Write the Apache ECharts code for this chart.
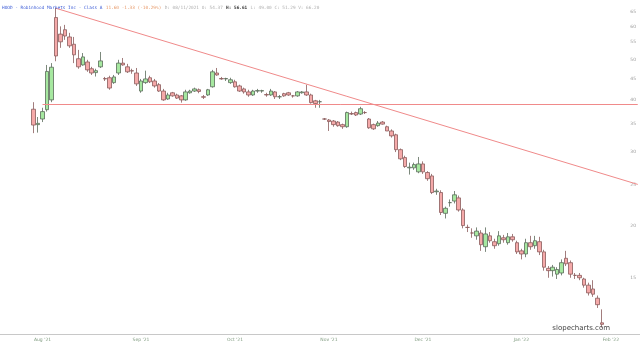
<!DOCTYPE html>
<html><head><meta charset="utf-8">
<script src="https://cdn.jsdelivr.net/npm/echarts@6/dist/echarts.min.js"></script>
<style>html,body{margin:0;padding:0;background:#fff}#c{width:640px;height:345px}</style>
</head><body><div id="c"></div>
<script>
// ---- data (HOOD daily) ----
const open  = [38.00,34.90,36.00,37.90,40.00,63.00,57.50,58.90,56.60,54.37,
50.20,48.50,49.30,47.50,46.50,48.00,45.00,45.20,44.00,46.40,
49.00,48.00,47.00,46.40,42.00,44.00,45.20,44.40,43.50,42.00,
40.20,41.60,41.10,40.90,40.00,41.60,42.00,42.30,40.70,41.10,
43.00,46.40,45.00,44.90,44.00,44.20,43.20,42.50,41.80,41.10,
42.00,42.00,41.20,41.10,41.80,40.70,41.40,41.60,40.90,40.90,
41.60,41.80,41.10,39.80,39.60,36.00,35.80,35.60,35.40,34.90,
34.50,37.10,37.30,37.00,37.30,36.00,34.90,34.70,35.40,34.50,
33.70,33.00,30.40,29.10,27.50,27.50,26.90,28.10,26.80,26.30,
24.10,24.00,21.40,22.70,22.90,23.30,21.80,19.80,19.20,18.90,
19.20,17.80,18.90,18.30,18.10,18.70,18.20,18.80,18.20,17.40,
17.10,18.20,17.90,18.30,17.30,15.80,15.60,15.30,15.40,16.70,
16.30,15.20,15.20,14.90,14.40,14.10,13.40,11.70];
const high  = [39.50,36.40,38.30,48.50,49.00,85.00,60.00,60.50,57.90,56.61,
52.70,51.80,49.90,48.00,47.50,52.10,45.40,45.70,45.90,49.90,
50.40,48.80,47.50,47.70,44.90,47.00,45.70,44.90,43.90,42.50,
41.60,41.80,41.40,41.10,42.30,42.30,42.80,42.60,41.10,42.50,
47.20,47.70,45.40,45.20,45.20,44.70,43.50,42.80,42.30,42.30,
42.50,42.30,41.60,42.50,42.00,41.10,41.60,41.80,41.10,42.00,
42.00,43.50,41.40,40.00,40.00,36.20,36.00,35.80,35.60,35.10,
37.50,37.50,37.50,38.50,37.60,36.20,35.10,35.60,35.60,34.70,
34.00,33.20,30.60,29.40,28.30,28.30,29.20,28.50,27.00,26.60,
24.50,24.30,22.20,23.10,24.20,23.60,22.00,20.10,19.70,19.80,
19.50,19.80,19.30,18.60,19.40,19.00,19.20,19.10,18.40,17.60,
18.60,18.90,18.90,18.80,17.50,16.00,16.10,15.90,16.60,17.40,
16.50,15.40,15.40,15.00,14.60,14.80,13.60,12.60];
const low   = [33.30,33.40,35.40,37.50,39.50,49.50,53.30,55.70,53.30,49.00,
47.50,48.30,46.70,45.90,45.50,47.70,44.40,42.30,43.70,45.90,
48.30,46.40,46.20,43.20,41.60,43.70,43.90,42.80,41.80,39.80,
40.00,40.70,40.20,39.40,39.80,41.40,41.80,41.50,40.20,40.90,
42.80,45.70,44.70,44.40,43.70,42.80,41.80,41.40,40.70,40.90,
41.60,41.60,40.70,40.90,40.20,40.20,40.70,40.90,40.50,40.70,
41.40,40.90,39.20,38.30,38.30,35.80,33.70,34.50,34.50,34.10,
34.30,36.80,36.60,36.80,37.00,34.10,33.90,34.50,34.90,33.70,
32.50,30.00,28.70,27.50,26.50,27.20,26.70,26.60,25.60,23.80,
23.70,21.20,20.80,22.20,22.60,21.60,19.70,19.30,18.70,18.50,
17.40,17.30,18.20,17.60,17.90,18.20,18.00,18.30,17.10,16.60,
16.80,17.50,17.60,17.00,15.60,15.00,15.10,14.90,15.20,16.00,
15.00,14.90,14.80,14.20,13.60,13.50,12.70,11.40];
const close = [34.82,35.15,37.50,46.80,47.90,50.97,55.10,56.90,53.90,51.29,
48.00,50.70,47.20,46.40,47.00,49.60,44.90,42.70,45.40,49.00,
48.50,46.70,46.90,43.70,44.40,44.90,44.20,43.20,42.00,40.00,
41.10,40.90,40.40,40.00,41.80,42.00,42.50,41.90,40.60,42.30,
46.70,45.90,44.90,45.00,44.70,43.00,42.00,41.80,41.10,42.00,
42.10,42.10,41.10,42.00,40.70,40.70,40.90,41.10,40.90,41.80,
41.80,41.10,39.40,39.20,39.60,36.00,35.50,34.90,34.70,34.50,
37.30,37.00,36.80,38.10,37.30,34.30,34.10,35.20,35.00,33.70,
32.80,30.40,28.90,27.70,27.60,28.00,28.10,26.90,25.90,24.00,
24.20,21.50,22.00,22.70,23.70,21.80,20.00,19.80,19.20,19.40,
18.00,19.10,18.40,17.90,18.90,18.50,18.80,18.50,17.30,17.10,
18.20,17.80,18.40,17.30,15.90,15.60,15.90,15.70,16.30,16.20,
15.30,15.20,15.00,14.40,13.80,13.70,12.93,11.60];
const volumeNote = '66.20';          // V: field of the header as read
const hoverIndex = 9;                 // header shows the 08/11/2021 bar
const yTicks = [15,20,25,30,35,40,45,50,55,60,65];
const yMin = 11.0, yMax = 66.4;       // visible price range (log scale)
const supportLevel = 39.1;            // horizontal red line
const trendFrom = {bar: 5, price: 66.3};   // red trend line, first point
const trendTo   = {bar: 135, price: 25.1}; // red trend line, right edge
const holidays = ['2021-09-06','2021-11-25','2021-12-24','2022-01-17'];
const padBefore = 7, padAfter = 8;

// ---- build ----
function tradingDays(startISO, n) {
  const out = []; const d = new Date(startISO + 'T00:00:00Z');
  while (out.length < n) {
    const dow = d.getUTCDay(); const iso = d.toISOString().slice(0, 10);
    if (dow !== 0 && dow !== 6 && !holidays.includes(iso)) out.push(iso);
    d.setUTCDate(d.getUTCDate() + 1);
  }
  return out;
}
const dates = tradingDays('2021-07-20', padBefore + open.length + padAfter);
const L = Math.log;
const candles = dates.map((d, i) => {
  const k = i - padBefore;
  if (k < 0 || k >= open.length) return '-';
  return [L(open[k]), L(close[k]), L(low[k]), L(high[k])];
});
const MONTHS = ['Jan','Feb','Mar','Apr','May','Jun','Jul','Aug','Sep','Oct','Nov','Dec'];
function isMonthStart(i) { return i > 0 && dates[i].slice(0, 7) !== dates[i - 1].slice(0, 7); }

const n = close.length;
const last = close[n - 1], prev = close[n - 2];
const chg = last - prev, pct = chg / prev * 100;
const hd = dates[hoverIndex + padBefore];
const hdTxt = hd.slice(5, 7) + '/' + hd.slice(8, 10) + '/' + hd.slice(0, 4);

const chart = echarts.init(document.getElementById('c'), null, {renderer: 'canvas'});
chart.setOption({
  animation: false,
  backgroundColor: '#fff',
  grid: {left: 0, right: 0, top: 8, bottom: 11, containLabel: false},
  xAxis: {
    type: 'category', data: dates, boundaryGap: true,
    axisLine: {lineStyle: {color: '#c8c8c8', width: 1}},
    axisTick: {show: false},
    splitLine: {show: false},
    axisLabel: {
      interval: (i) => isMonthStart(i),
      formatter: (v) => MONTHS[+v.slice(5, 7) - 1] + " '" + v.slice(2, 4),
      fontSize: 4.5, color: '#7e9a7e', margin: 3, fontFamily: 'DejaVu Sans'
    }
  },
  yAxis: {
    type: 'value', position: 'right', scale: true,
    min: L(yMin), max: L(yMax),
    axisLine: {show: false}, axisTick: {show: false}, splitLine: {show: false},
    axisLabel: {
      inside: true, margin: 4, fontSize: 4.5, color: '#9a9a9a', fontFamily: 'DejaVu Sans',
      customValues: yTicks.map(L),
      formatter: (v) => String(Math.round(Math.exp(v)))
    }
  },
  series: [{
    type: 'candlestick', data: candles, barWidth: 4, clip: true,
    itemStyle: {color: '#a6e8a0', color0: '#f5a9a9', borderColor: '#5a6b5a', borderColor0: '#8a5c5c', borderWidth: 0.8},
    markLine: {
      silent: true, symbol: ['none', 'none'], label: {show: false},
      lineStyle: {color: '#f08a8a', width: 1, type: 'solid'},
      data: [
        [{coord: [padBefore + 2, L(supportLevel)]}, {coord: [dates.length - 1, L(supportLevel)]}],
        [{coord: [padBefore + trendFrom.bar, L(trendFrom.price)]}, {coord: [padBefore + trendTo.bar, L(trendTo.price)]}]
      ]
    }
  }],
  graphic: [
    {type: 'rect', left: 0, top: 0, z: 100, silent: true, shape: {width: 640, height: 8}, style: {fill: '#fff'}},
    {type: 'text', left: 2, top: 2, z: 101, style: {
      text: '{a|HOOD - Robinhood Markets Inc - Class A} {b|' + last.toFixed(2) + ' ' + chg.toFixed(2) + ' (' + pct.toFixed(2) + '%)} {c|D: ' + hdTxt +
            ' O: ' + open[hoverIndex].toFixed(2) + '} {d|H: ' + high[hoverIndex].toFixed(2) + '} {c|L: ' + low[hoverIndex].toFixed(2) +
            ' C: ' + close[hoverIndex].toFixed(2) + ' V: ' + volumeNote + '}',
      rich: {
        a: {fill: '#3b5bd6', fontSize: 4.4, fontFamily: 'DejaVu Sans Mono', textDecoration: 'underline'},
        b: {fill: '#e79a6a', fontSize: 4.4, fontFamily: 'DejaVu Sans Mono'},
        c: {fill: '#b0b0b0', fontSize: 4.4, fontFamily: 'DejaVu Sans Mono'},
        d: {fill: '#333', fontSize: 4.4, fontFamily: 'DejaVu Sans Mono', fontWeight: 'bold'}
      }
    }},
    {type: 'text', right: 30, bottom: 13, z: 101, style: {text: 'slopecharts.com', fill: '#444', fontSize: 7, fontFamily: 'DejaVu Sans'}}
  ]
});
</script></body></html>
